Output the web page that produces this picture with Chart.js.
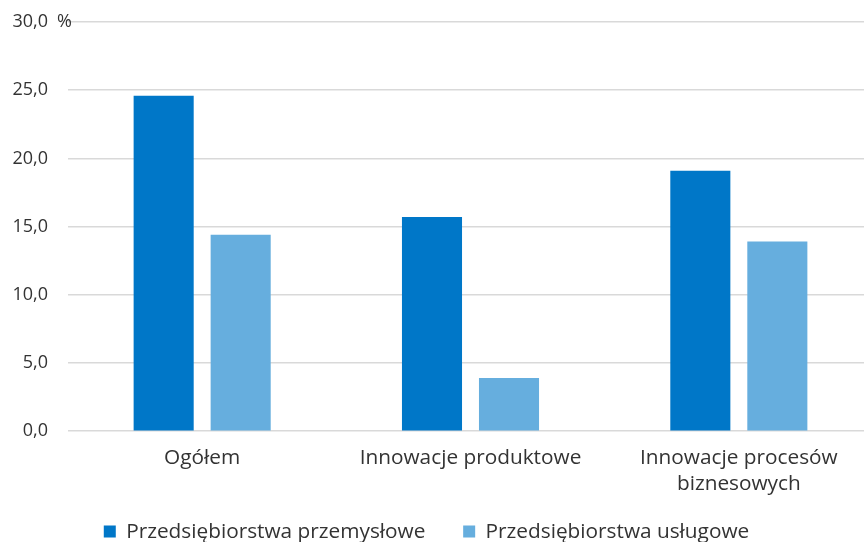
<!DOCTYPE html>
<html>
<head>
<meta charset="utf-8">
<script src="https://cdn.jsdelivr.net/npm/chart.js@4"></script>
<style>
  html, body { margin: 0; padding: 0; background: #fff; overflow: hidden; }
  /* plot runs slightly past the right edge of the window, as in the original */
  #wrap { width: 873px; height: 542px; }
</style>
</head>
<body>
<div id="wrap"><canvas id="myChart"></canvas></div>
<script>
const categories = ['Ogółem', 'Innowacje produktowe', ['Innowacje procesów', 'biznesowych']];
const przemyslowe = [24.6, 15.7, 19.1];
const uslugowe = [14.4, 3.9, 13.9];
const seriesNames = ['Przedsiębiorstwa przemysłowe', 'Przedsiębiorstwa usługowe'];
const yTicks = [0, 5, 10, 15, 20, 25, 30];

const fontFamily = '"Open Sans", sans-serif';
const textColor = '#333333';

// draws the unit after the top tick label
const unitPlugin = {
    id: 'unit',
    afterDraw(chart) {
        const y = chart.scales.y;
        const c = chart.ctx;
        c.save();
        c.font = '18px ' + fontFamily;
        c.fillStyle = textColor;
        c.textBaseline = 'middle';
        c.textAlign = 'left';
        c.fillText('%', 57, y.getPixelForValue(30));
        c.restore();
    }
};

const ctx = document.getElementById('myChart').getContext('2d');
new Chart(ctx, {
    type: 'bar',
    data: {
        labels: categories,
        datasets: [
            {
                label: seriesNames[0],
                data: przemyslowe,
                backgroundColor: '#0077C8',
                categoryPercentage: 0.574,
                barPercentage: 0.78,
            },
            {
                label: seriesNames[1],
                data: uslugowe,
                backgroundColor: '#66AEDE',
                categoryPercentage: 0.574,
                barPercentage: 0.78,
            },
        ],
    },
    options: {
        responsive: true,
        maintainAspectRatio: false,
        animation: false,
        layout: { padding: { top: 22, left: -20, right: 0, bottom: -10 } },
        plugins: {
            legend: {
                position: 'bottom',
                labels: {
                    boxWidth: 12,
                    boxHeight: 12,
                    padding: 0,
                    color: textColor,
                    font: { family: fontFamily, size: 20.8 },
                    generateLabels(chart) {
                        const items = Chart.defaults.plugins.legend.labels.generateLabels(chart);
                        // wider gap after the first entry, as in the original
                        items[0].text = items[0].text + '       ';
                        return items;
                    },
                },
            },
            tooltip: { enabled: false },
        },
        scales: {
            x: {
                grid: { display: false },
                border: { display: false },
                ticks: {
                    color: textColor,
                    font: { family: fontFamily, size: 20.8, lineHeight: 1.25 },
                    padding: 6,
                },
                afterFit(scale) {
                    scale.height = 90;
                    scale.paddingLeft = 0;
                    scale.paddingRight = 0;
                },
            },
            y: {
                min: 0,
                max: 30,
                afterBuildTicks(axis) {
                    axis.ticks = yTicks.map(v => ({ value: v }));
                },
                grid: { color: '#d9d9d9', lineWidth: 1.5, drawTicks: false },
                border: { display: false },
                ticks: {
                    color: textColor,
                    padding: 20,
                    font: { family: fontFamily, size: 18 },
                    callback: v => v.toFixed(1).replace('.', ','),
                },
                afterFit(scale) {
                    scale.width = 88;
                    scale.paddingTop = 0;
                    scale.paddingBottom = 0;
                },
            },
        },
    },
    plugins: [unitPlugin],
});
</script>
</body>
</html>
